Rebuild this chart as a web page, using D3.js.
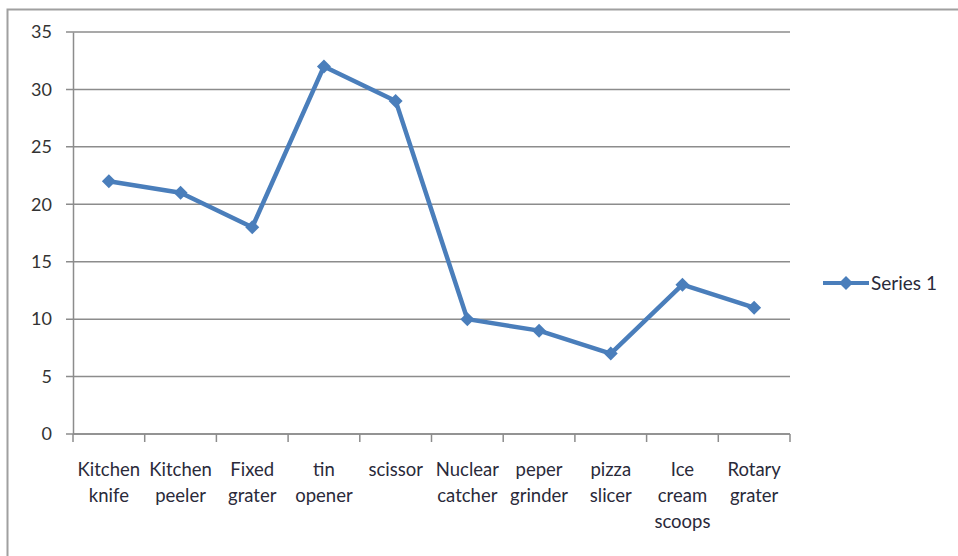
<!DOCTYPE html>
<html>
<head>
<meta charset="utf-8">
<script src="https://cdn.jsdelivr.net/npm/d3@7"></script>
<style>
  body { margin: 0; background: #fff; }
  svg { display: block; font-family: Lato, "Open Sans", sans-serif; }
</style>
</head>
<body>
<div class="svg-content"></div>
<script>
// chart data
var categories = ["Kitchen knife", "Kitchen peeler", "Fixed grater", "tin opener", "scissor",
                  "Nuclear catcher", "peper grinder", "pizza slicer", "Ice cream scoops", "Rotary grater"];
var series1 = [22, 21, 18, 32, 29, 10, 9, 7, 13, 11];
var yTicks = [0, 5, 10, 15, 20, 25, 30, 35];
var seriesName = "Series 1";

var width = 958, height = 556;
var plotLeft = 73, plotRight = 790, plotTop = 32, plotBottom = 434;
var blue = "#4a7ebb", grey = "#8c8c8c";

var svg = d3.select(".svg-content")
  .append("svg")
  .attr("width", width)
  .attr("height", height);

// outer chart border (runs off the picture right and bottom)
svg.append("rect")
  .attr("x", 7.5).attr("y", 9.5)
  .attr("width", 1000).attr("height", 600)
  .attr("fill", "none")
  .attr("stroke", "#a0a0a0")
  .attr("stroke-width", 2);

var x = d3.scaleBand().domain(categories).range([plotLeft, plotRight]);
var y = d3.scaleLinear().domain([0, 35]).range([plotBottom, plotTop]);

// gridlines
svg.append("g").selectAll("line")
  .data(yTicks)
  .enter().append("line")
  .attr("x1", plotLeft - 7).attr("x2", plotRight)
  .attr("y1", function(d) { return y(d); })
  .attr("y2", function(d) { return y(d); })
  .attr("stroke", grey).attr("stroke-width", 1.5);

// y axis
var yAxis = svg.append("g")
  .attr("transform", "translate(" + plotLeft + ",0)")
  .call(d3.axisLeft(y).tickValues(yTicks).tickSize(0).tickPadding(21));
yAxis.select(".domain").attr("stroke", grey).attr("stroke-width", 1.5);
yAxis.selectAll("text")
  .attr("font-size", "18px")
  .attr("fill", "#333")
  .attr("font-family", "Lato, sans-serif");

// x axis line + ticks at band edges
svg.append("line")
  .attr("x1", plotLeft).attr("x2", plotRight)
  .attr("y1", plotBottom).attr("y2", plotBottom)
  .attr("stroke", grey).attr("stroke-width", 1.5);

var edges = categories.map(function(c) { return x(c); }).concat([plotRight]);
svg.append("g").selectAll("line")
  .data(edges)
  .enter().append("line")
  .attr("x1", function(d) { return d; })
  .attr("x2", function(d) { return d; })
  .attr("y1", plotBottom).attr("y2", plotBottom + 8)
  .attr("stroke", grey).attr("stroke-width", 1.5);

// category labels, one word per line
var labels = svg.append("g").selectAll("text")
  .data(categories)
  .enter().append("text")
  .attr("text-anchor", "middle")
  .attr("font-size", "18.5px")
  .attr("fill", "#2a2a3a")
  .attr("transform", function(d) {
    return "translate(" + (x(d) + x.bandwidth() / 2) + ",476)";
  });
labels.selectAll("tspan")
  .data(function(d) { return d.split(" "); })
  .enter().append("tspan")
  .attr("x", 0)
  .attr("y", function(d, i) { return i * 26; })
  .text(function(d) { return d; });

// series line
var line = d3.line()
  .x(function(d, i) { return x(categories[i]) + x.bandwidth() / 2; })
  .y(function(d) { return y(d); });

svg.append("path")
  .datum(series1)
  .attr("d", line)
  .attr("fill", "none")
  .attr("stroke", blue)
  .attr("stroke-width", 4.5)
  .attr("stroke-linejoin", "round");

var diamond = d3.symbol().type(d3.symbolDiamond2).size(125);

svg.append("g").selectAll("path")
  .data(series1)
  .enter().append("path")
  .attr("d", diamond)
  .attr("fill", blue)
  .attr("transform", function(d, i) {
    return "translate(" + (x(categories[i]) + x.bandwidth() / 2) + "," + y(d) + ")";
  });

// legend
var legend = svg.append("g").attr("transform", "translate(823,283)");
legend.append("line")
  .attr("x1", 0).attr("x2", 46)
  .attr("stroke", blue).attr("stroke-width", 4);
legend.append("path")
  .attr("d", diamond)
  .attr("fill", blue)
  .attr("transform", "translate(23,0)");
legend.append("text")
  .attr("x", 48).attr("dy", "0.35em")
  .attr("font-size", "19px")
  .attr("fill", "#2a2a3a")
  .text(seriesName);
</script>
</body>
</html>
